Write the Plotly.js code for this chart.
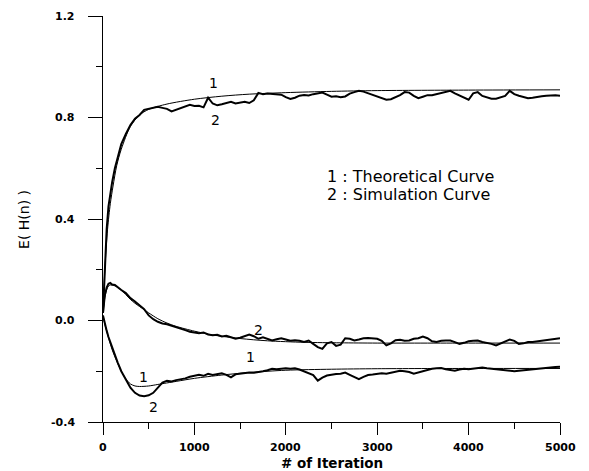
<!DOCTYPE html>
<html>
<head>
<meta charset="utf-8">
<script src="https://cdn.plot.ly/plotly-3.0.1.min.js"></script>
<style>html,body{margin:0;padding:0;background:#fff;}#chart{width:589px;height:471px;}</style>
</head>
<body>
<div id="chart"></div>
<script>
// ---- Theoretical curves (curve 1) ----
const T1_N = [0, 20, 50, 80, 110, 150, 200, 300, 400, 500, 700, 1000, 1300, 1600, 2000, 2500, 3000, 4000, 5000];
const T1_V = [0.03, 0.2, 0.36, 0.46, 0.53, 0.61, 0.675, 0.765, 0.81, 0.832, 0.853, 0.872, 0.884, 0.892, 0.898, 0.903, 0.906, 0.908, 0.909];

const T2_N = [0, 20, 50, 80, 120, 150, 200, 250, 300, 350, 400, 500, 600, 700, 800, 1000, 1200, 1500, 1800, 2200, 2600, 3000, 4000, 5000];
const T2_V = [0.03, 0.09, 0.13, 0.14, 0.138, 0.133, 0.12, 0.102, 0.083, 0.068, 0.055, 0.03, 0.007, -0.01, -0.023, -0.042, -0.057, -0.071, -0.08, -0.086, -0.088, -0.089, -0.089, -0.089];

const T3_N = [0, 20, 50, 100, 150, 200, 250, 300, 350, 400, 500, 600, 800, 1000, 1300, 1600, 2000, 2500, 3000, 4000, 5000];
const T3_V = [0.02, -0.015, -0.055, -0.115, -0.16, -0.2, -0.23, -0.25, -0.258, -0.26, -0.258, -0.252, -0.24, -0.228, -0.215, -0.205, -0.196, -0.192, -0.19, -0.189, -0.189];

// ---- Simulation curves (curve 2) ----
const SIM_N = [0, 20, 40, 60, 80, 100, 130, 160, 200, 250, 300, 350, 400, 450,
  500, 550, 600, 650, 700, 750, 800, 850, 900, 950,
  1000, 1050, 1100, 1150, 1200, 1250, 1300, 1350, 1400, 1450,
  1500, 1550, 1600, 1650, 1700, 1750, 1800, 1850, 1900, 1950,
  2000, 2050, 2100, 2150, 2200, 2250, 2300, 2350, 2400, 2450,
  2500, 2550, 2600, 2650, 2700, 2750, 2800, 2850, 2900, 2950,
  3000, 3050, 3100, 3150, 3200, 3250, 3300, 3350, 3400, 3450,
  3500, 3550, 3600, 3650, 3700, 3750, 3800, 3850, 3900, 3950,
  4000, 4050, 4100, 4150, 4200, 4250, 4300, 4350, 4400, 4450,
  4500, 4550, 4600, 4650, 4700, 4750, 4800, 4850, 4900, 4950,
  5000];

const S1_V = [0.03, 0.22, 0.36, 0.45, 0.5, 0.545, 0.6, 0.645, 0.695, 0.735, 0.77, 0.795, 0.81, 0.83,
  0.835, 0.838, 0.842, 0.838, 0.834, 0.824, 0.83, 0.838, 0.842, 0.85,
  0.845, 0.846, 0.84, 0.878, 0.855, 0.848, 0.852, 0.858, 0.862, 0.855,
  0.858, 0.862, 0.857, 0.868, 0.897, 0.892, 0.895, 0.893, 0.89, 0.89,
  0.88, 0.873, 0.878, 0.886, 0.889, 0.887, 0.892, 0.895, 0.898, 0.89,
  0.882, 0.884, 0.88, 0.883, 0.894, 0.9, 0.905, 0.902, 0.895, 0.89,
  0.882, 0.876, 0.87, 0.872, 0.88, 0.888, 0.9, 0.898, 0.885, 0.876,
  0.882, 0.888, 0.888, 0.892, 0.895, 0.9, 0.905, 0.895, 0.886, 0.876,
  0.87, 0.895, 0.9, 0.885, 0.879, 0.874, 0.874, 0.879, 0.885, 0.905,
  0.892, 0.886, 0.88, 0.876, 0.878, 0.882, 0.884, 0.886, 0.887, 0.888,
  0.886];

const S2_V = [0.03, 0.1, 0.13, 0.145, 0.148, 0.142, 0.14, 0.13, 0.12, 0.108, 0.088, 0.075, 0.06, 0.045,
  0.02, 0.005, -0.005, -0.012, -0.015, -0.02, -0.026, -0.03, -0.038, -0.044,
  -0.046, -0.05, -0.047, -0.055, -0.058, -0.056, -0.063, -0.06, -0.066, -0.072,
  -0.068, -0.06, -0.055, -0.062, -0.072, -0.066, -0.072, -0.079, -0.074, -0.07,
  -0.075, -0.08, -0.078, -0.08, -0.085, -0.079, -0.092, -0.105, -0.112, -0.09,
  -0.085, -0.1, -0.095, -0.07, -0.072, -0.079, -0.075, -0.07, -0.069, -0.072,
  -0.072, -0.08, -0.098, -0.09, -0.078, -0.076, -0.08, -0.079, -0.072, -0.07,
  -0.063, -0.07, -0.082, -0.085, -0.08, -0.079, -0.079, -0.085, -0.092, -0.088,
  -0.082, -0.08, -0.079, -0.085, -0.088, -0.092, -0.098, -0.09, -0.082, -0.075,
  -0.08, -0.092, -0.09, -0.085, -0.085, -0.082, -0.08, -0.079, -0.076, -0.072,
  -0.07];

const S3_V = [0.02, -0.015, -0.04, -0.065, -0.085, -0.11, -0.14, -0.165, -0.2, -0.235, -0.265, -0.285, -0.296, -0.298,
  -0.295, -0.285, -0.265, -0.245, -0.238, -0.24, -0.235, -0.232, -0.228, -0.222,
  -0.218, -0.214, -0.218, -0.21, -0.215, -0.212, -0.208, -0.214, -0.224, -0.212,
  -0.21, -0.208, -0.205, -0.206, -0.204, -0.2, -0.196, -0.19, -0.192, -0.19,
  -0.188, -0.19, -0.188, -0.193, -0.2, -0.21, -0.215, -0.237, -0.225, -0.217,
  -0.213, -0.211, -0.21, -0.205, -0.214, -0.222, -0.231, -0.222, -0.215, -0.213,
  -0.211, -0.208, -0.21, -0.205, -0.2, -0.198, -0.2, -0.203, -0.21, -0.205,
  -0.198, -0.192, -0.19, -0.188, -0.187, -0.192, -0.196, -0.198, -0.193, -0.19,
  -0.192, -0.19, -0.186, -0.185, -0.188, -0.19, -0.192, -0.195, -0.198, -0.2,
  -0.2, -0.198, -0.196, -0.193, -0.19, -0.19, -0.188, -0.185, -0.183, -0.183,
  -0.182];

// ---- Tick labels ----
const X_TICKS = [0, 1000, 2000, 3000, 4000, 5000];
const X_TICK_TEXT = ['0', '1000', '2000', '3000', '4000', '5000'];
const Y_TICKS = [-0.4, 0.0, 0.4, 0.8, 1.2];
const Y_TICK_TEXT = ['-0.4', '0.0', '0.4', '0.8', '1.2'];

const theo = {color: '#000', width: 1, shape: 'spline', smoothing: 0.8};
const sim = {color: '#000', width: 2};

const traces = [
  {x: T1_N, y: T1_V, mode: 'lines', line: theo, name: 'Theoretical 1'},
  {x: T2_N, y: T2_V, mode: 'lines', line: theo, name: 'Theoretical 2'},
  {x: T3_N, y: T3_V, mode: 'lines', line: theo, name: 'Theoretical 3'},
  {x: SIM_N, y: S1_V, mode: 'lines', line: sim, name: 'Simulation 1'},
  {x: SIM_N, y: S2_V, mode: 'lines', line: sim, name: 'Simulation 2'},
  {x: SIM_N, y: S3_V, mode: 'lines', line: sim, name: 'Simulation 3'}
];

const tickFont = {family: 'DejaVu Sans', size: 11, color: '#000', weight: 'bold'};
const lblFont = {family: 'DejaVu Sans', size: 14, color: '#000'};

function lbl(text, x, y) {
  return {text: text, x: x, y: y, xref: 'x', yref: 'y', showarrow: false, font: lblFont};
}

// tick labels placed on the axes' own scales (x in data units / y in data units)
const xTickLabels = X_TICKS.map(function (v, i) {
  return {text: X_TICK_TEXT[i], x: v, xref: 'x', y: -0.064, yref: 'paper', yanchor: 'middle', showarrow: false, font: tickFont};
});
const yTickLabels = Y_TICKS.map(function (v, i) {
  return {text: Y_TICK_TEXT[i], y: v, yref: 'y', x: -0.057, xref: 'paper', xanchor: 'right', yanchor: 'middle', showarrow: false, font: tickFont};
});

const layout = {
  width: 589, height: 471,
  margin: {l: 103, r: 29, t: 16, b: 49},
  paper_bgcolor: '#fff', plot_bgcolor: '#fff',
  showlegend: false,
  font: {family: 'DejaVu Sans', color: '#000'},
  xaxis: {
    range: [0, 5000], showgrid: false, zeroline: false,
    showline: true, linecolor: '#000', linewidth: 1,
    ticks: 'outside', ticklen: 12, tickwidth: 1, tickcolor: '#000',
    tickvals: X_TICKS, showticklabels: false,
    minor: {dtick: 500, ticks: 'outside', ticklen: 6, tickcolor: '#000', tickwidth: 1, showgrid: false}
  },
  yaxis: {
    range: [-0.4, 1.2], showgrid: false, zeroline: false,
    showline: true, linecolor: '#000', linewidth: 1,
    ticks: 'outside', ticklen: 14, tickwidth: 1, tickcolor: '#000',
    tickvals: Y_TICKS, showticklabels: false,
    minor: {dtick: 0.2, ticks: 'outside', ticklen: 6, tickcolor: '#000', tickwidth: 1, showgrid: false}
  },
  annotations: xTickLabels.concat(yTickLabels).concat([
    {text: '# of Iteration', xref: 'paper', yref: 'paper', x: 0.5, y: -0.101, yanchor: 'middle', showarrow: false,
     font: {family: 'DejaVu Sans', size: 13.5, weight: 'bold', color: '#000'}},
    {text: 'E( H(n) )', xref: 'paper', yref: 'paper', x: -0.173, y: 0.5, xanchor: 'center', yanchor: 'middle', textangle: -90, showarrow: false,
     font: {family: 'DejaVu Sans', size: 14, color: '#000'}},
    lbl('1', 1210, 0.935),
    lbl('2', 1228, 0.79),
    lbl('2', 1703, -0.037),
    lbl('1', 1612, -0.142),
    lbl('1', 442, -0.221),
    lbl('2', 552, -0.342),
    {text: '1 : Theoretical Curve', x: 2434, y: 0.569, xref: 'x', yref: 'y', xanchor: 'left', showarrow: false, font: {family: 'DejaVu Sans', size: 16, color: '#000'}},
    {text: '2 : Simulation Curve', x: 2434, y: 0.498, xref: 'x', yref: 'y', xanchor: 'left', showarrow: false, font: {family: 'DejaVu Sans', size: 16, color: '#000'}}
  ])
};

Plotly.newPlot('chart', traces, layout, {staticPlot: true, displayModeBar: false});
</script>
</body>
</html>
